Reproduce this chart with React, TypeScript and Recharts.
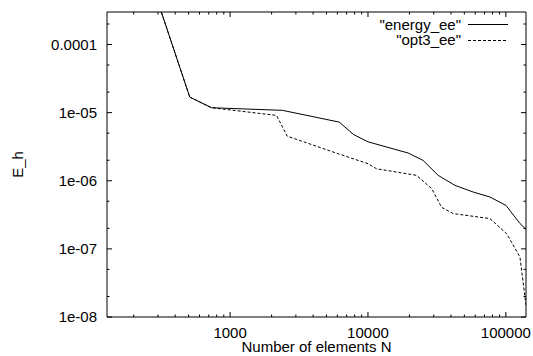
import React from 'react';
import { LineChart, Line, XAxis, YAxis, Legend } from 'recharts';

// Series: number of elements N and error E_h
const energyN = [250, 510, 733, 2400, 6180, 7900, 10000, 19600, 25100, 32300, 42700, 58000, 76700, 100200, 126700, 140000];
const energyE = [1.26e-3, 1.69e-5, 1.18e-5, 1.08e-5, 7.26e-6, 4.74e-6, 3.73e-6, 2.55e-6, 1.99e-6, 1.2e-6, 8.56e-7, 6.83e-7, 5.77e-7, 4.35e-7, 2.35e-7, 1.94e-7];

const opt3N = [250, 510, 733, 2173, 2594, 6085, 10000, 11530, 22500, 29000, 34200, 41500, 76700, 101400, 126500, 140000];
const opt3E = [1.26e-3, 1.69e-5, 1.18e-5, 9.1e-6, 4.52e-6, 2.49e-6, 1.78e-6, 1.5e-6, 1.2e-6, 7.66e-7, 4.07e-7, 3.3e-7, 2.78e-7, 1.67e-7, 7.6e-8, 1.49e-8];

const seriesNames = ['"energy_ee"', '"opt3_ee"'];

const xMajorTicks = [1000, 10000, 100000];
const xTickLabels = ['1000', '10000', '100000'];
const xMinorTicks = [200, 300, 400, 500, 600, 700, 800, 900, 2000, 3000, 4000, 5000, 6000, 7000, 8000, 9000, 20000, 30000, 40000, 50000, 60000, 70000, 80000, 90000];

const yMajorTicks = [1e-8, 1e-7, 1e-6, 1e-5, 1e-4];
const yTickLabels = ['1e-08', '1e-07', '1e-06', '1e-05', '0.0001'];
const yMinorTicks = [2e-8, 5e-8, 2e-7, 5e-7, 2e-6, 5e-6, 2e-5, 5e-5, 2e-4];

const xDomain = [128, 140000];
const yDomain = [1e-8, 3e-4];

const xLabel = 'Number of elements N';
const yLabel = 'E_h';

const energyData = energyN.map((n, i) => ({ n, e: energyE[i] }));
const opt3Data = opt3N.map((n, i) => ({ n, e: opt3E[i] }));

const allX = [...xMinorTicks, ...xMajorTicks].sort((a, b) => a - b);
const allY = [...yMinorTicks, ...yMajorTicks].sort((a, b) => a - b);

const FONT = "'Liberation Sans', Arial, Helvetica, sans-serif";
const FS = 15;
const MAJ = 5;
const MIN = 2.5;

const XTickBottom = (props: any) => {
  const { x, y, payload } = props;
  const idx = xMajorTicks.indexOf(payload.value);
  const major = idx >= 0;
  return (
    <g>
      <line x1={x} x2={x} y1={y} y2={y - (major ? MAJ : MIN)} stroke="#000" strokeWidth={1} />
      {major && (
        <text x={x} y={y + 20.7} textAnchor="middle" fontFamily={FONT} fontSize={FS} fill="#000">
          {xTickLabels[idx]}
        </text>
      )}
    </g>
  );
};

const XTickTop = (props: any) => {
  const { x, y, payload } = props;
  const major = xMajorTicks.indexOf(payload.value) >= 0;
  return <line x1={x} x2={x} y1={y} y2={y + (major ? MAJ : MIN)} stroke="#000" strokeWidth={1} />;
};

const YTickLeft = (props: any) => {
  const { x, y, payload } = props;
  const idx = yMajorTicks.indexOf(payload.value);
  const major = idx >= 0;
  return (
    <g>
      <line x1={x} x2={x + (major ? MAJ : MIN)} y1={y} y2={y} stroke="#000" strokeWidth={1} />
      {major && (
        <text x={x - 10} y={y + 5.4} textAnchor="end" fontFamily={FONT} fontSize={FS} fill="#000">
          {yTickLabels[idx]}
        </text>
      )}
    </g>
  );
};

const YTickRight = (props: any) => {
  const { x, y, payload } = props;
  const major = yMajorTicks.indexOf(payload.value) >= 0;
  return <line x1={x} x2={x - (major ? MAJ : MIN)} y1={y} y2={y} stroke="#000" strokeWidth={1} />;
};

const LegendBox = () => (
  <svg width={533} height={50} style={{ display: 'block' }}>
    <text x={461} y={29.5} textAnchor="end" fontFamily={FONT} fontSize={FS} fill="#000">
      {seriesNames[0]}
    </text>
    <line x1={468} x2={508} y1={24.5} y2={24.5} stroke="#000" strokeWidth={1} />
    <text x={461} y={45} textAnchor="end" fontFamily={FONT} fontSize={FS} fill="#000">
      {seriesNames[1]}
    </text>
    <line x1={468} x2={508} y1={40.5} y2={40.5} stroke="#000" strokeWidth={1} strokeDasharray="3 2" />
  </svg>
);

export default function App() {
  return (
    <div style={{ position: 'absolute', left: 0, top: 0, width: 533, height: 356, background: '#fff' }}>
      <LineChart width={533} height={356} margin={{ top: 11, right: 6, bottom: 0, left: 0 }}>
        <XAxis
          xAxisId={0}
          type="number"
          dataKey="n"
          scale="log"
          domain={xDomain}
          allowDataOverflow
          ticks={allX}
          interval={0}
          height={39}
          tickSize={0}
          tickMargin={0}
          tickLine={false}
          axisLine={{ stroke: '#000', strokeWidth: 1 }}
          tick={<XTickBottom />}
          label={{
            content: (p: any) => {
              const vb = p.viewBox;
              return (
                <text x={vb.x + vb.width / 2} y={vb.y + 35} textAnchor="middle" fontFamily={FONT} fontSize={FS} fill="#000">
                  {xLabel}
                </text>
              );
            },
          }}
        />
        <XAxis
          xAxisId="top"
          orientation="top"
          type="number"
          dataKey="n"
          scale="log"
          domain={xDomain}
          allowDataOverflow
          ticks={allX}
          interval={0}
          height={1}
          tickSize={0}
          tickMargin={0}
          tickLine={false}
          axisLine={{ stroke: '#000', strokeWidth: 1 }}
          tick={<XTickTop />}
        />
        <YAxis
          yAxisId={0}
          type="number"
          scale="log"
          domain={yDomain}
          allowDataOverflow
          ticks={allY}
          interval={0}
          width={107}
          tickSize={0}
          tickMargin={0}
          tickLine={false}
          axisLine={{ stroke: '#000', strokeWidth: 1 }}
          tick={<YTickLeft />}
          label={{
            content: (p: any) => {
              const vb = p.viewBox;
              const cx = 23;
              const cy = vb.y + vb.height / 2;
              return (
                <text x={cx} y={cy} transform={`rotate(-90, ${cx}, ${cy})`} textAnchor="middle" fontFamily={FONT} fontSize={FS} fill="#000">
                  {yLabel}
                </text>
              );
            },
          }}
        />
        <YAxis
          yAxisId="right"
          orientation="right"
          type="number"
          scale="log"
          domain={yDomain}
          allowDataOverflow
          ticks={allY}
          interval={0}
          width={1}
          tickSize={0}
          tickMargin={0}
          tickLine={false}
          axisLine={{ stroke: '#000', strokeWidth: 1 }}
          tick={<YTickRight />}
        />
        <Legend
          layout="horizontal"
          verticalAlign="middle"
          align="center"
          content={() => <LegendBox />}
          wrapperStyle={{ position: 'absolute', top: 0, left: 0, width: 533, height: 50 }}
        />
        <Line
          data={energyData}
          dataKey="e"
          name={seriesNames[0]}
          type="linear"
          stroke="#000"
          strokeWidth={1}
          dot={false}
          activeDot={false}
          isAnimationActive={false}
        />
        <Line
          data={opt3Data}
          dataKey="e"
          name={seriesNames[1]}
          type="linear"
          stroke="#000"
          strokeWidth={1}
          strokeDasharray="3 2"
          dot={false}
          activeDot={false}
          isAnimationActive={false}
        />
      </LineChart>
    </div>
  );
}
